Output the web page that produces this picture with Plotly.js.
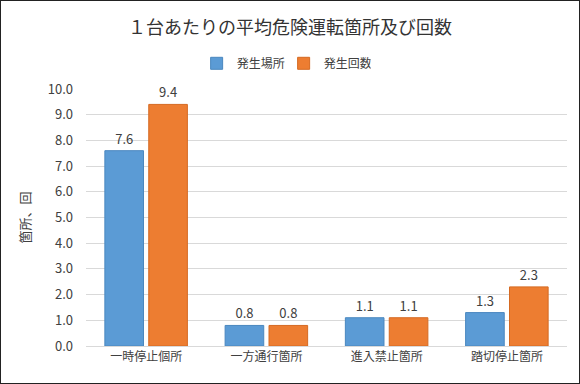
<!DOCTYPE html>
<html><head><meta charset="utf-8">
<script src="https://cdn.plot.ly/plotly-3.0.1.min.js"></script>
<style>
html,body{margin:0;padding:0;background:#fff;}
#wrap{position:absolute;left:0;top:0;width:578px;height:382px;border:1px solid #222;}
#chart{width:578px;height:382px;}
</style>
</head><body>
<div id="wrap"><div id="chart"></div></div>
<script>
var categories = ['一時停止個所','一方通行箇所','進入禁止箇所','踏切停止箇所'];
var placeValues = [7.6, 0.8, 1.1, 1.3];
var countValues = [9.4, 0.8, 1.1, 2.3];
var seriesNames = ['発生場所','発生回数'];
var yTicks = [0,1,2,3,4,5,6,7,8,9,10];

var font = '"Noto Sans CJK JP", "Noto Sans", sans-serif';
function mk(name, vals, color, line){
  return {
    type:'bar', name:name, x:categories, y:vals,
    marker:{color:color, line:{color:line, width:1}},
    text: vals.map(function(v){return v.toFixed(1);}),
    textposition:'outside', cliponaxis:false,
    textfont:{family:font, size:13, color:'#404040'},
    hoverinfo:'none'
  };
}
var data = [
  mk(seriesNames[0], placeValues, '#5B9BD5', '#4A87BF'),
  mk(seriesNames[1], countValues, '#ED7D31', '#D56A22')
];
var layout = {
  width:578, height:382,
  margin:{l:85, r:12, t:88, b:37},
  paper_bgcolor:'#fff', plot_bgcolor:'#fff',
  font:{family:font, color:'#404040'},
  title:{text:'１台あたりの平均危険運転箇所及び回数', font:{family:font, size:18, color:'#333'}, x:0.5, xanchor:'center', y:0.93, yanchor:'middle'},
  showlegend:true,
  legend:{orientation:'h', x:0.23, xanchor:'left', y:1.1, yanchor:'middle', font:{family:font, size:12, color:'#404040'}, itemwidth:30, entrywidth:42, entrywidthmode:'pixels', traceorder:'normal'},
  barmode:'group', bargap:0.27, bargroupgap:0.12,
  xaxis:{type:'category', showgrid:false, zeroline:false, showline:true, linecolor:'#d9d9d9', tickfont:{family:font, size:12, color:'#404040'}, ticks:''},
  yaxis:{range:[0,10], tickvals:yTicks, ticktext:yTicks.map(function(v){return v.toFixed(1);}), showgrid:true, gridcolor:'#d9d9d9', zeroline:false, showline:false, tickfont:{family:font, size:13, color:'#404040'}, ticks:'', ticklabelstandoff:12,
    title:{text:'箇所、回', font:{family:font, size:13, color:'#404040'}, standoff:14}}
};
Plotly.newPlot('chart', data, layout, {displayModeBar:false, staticPlot:true});
</script>
</body></html>
